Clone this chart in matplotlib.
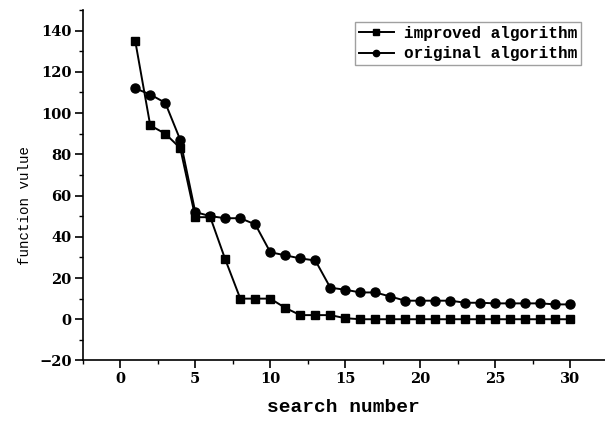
import matplotlib
matplotlib.use("Agg")
import matplotlib.pyplot as plt
from matplotlib.ticker import MultipleLocator

# search number 1..30
search_number = list(range(1, 31))
improved = [135, 94, 90, 83, 49.5, 49.5, 29, 10, 10, 10, 5.5, 2, 2, 2, 0.5,
            0, 0, 0, 0, 0, 0, 0, 0, 0, 0, 0, 0, 0, 0, 0]
original = [112, 109, 105, 87, 52, 50, 49, 49, 46, 32.5, 31, 29.5, 28.5, 15.3, 14.3,
            13, 13, 11, 9, 9, 9, 9, 8, 8, 7.7, 7.7, 7.7, 7.7, 7.2, 7.2]
x_ticks = [0, 5, 10, 15, 20, 25, 30]
y_ticks = [-20, 0, 20, 40, 60, 80, 100, 120, 140]

mono = "Liberation Mono"
serif = "DejaVu Serif"

fig = plt.figure(figsize=(6.05, 4.23), dpi=100)
ax = fig.add_axes([0.1367, 0.1478, 0.8633, 0.8286])

ax.plot(search_number, improved, color="black", lw=1.4, marker="s", ms=6,
        label="improved algorithm")
ax.plot(search_number, original, color="black", lw=1.4, marker="o", ms=6.5,
        label="original algorithm")

ax.set_xlim(-2.5, 32.3)
ax.set_ylim(-20, 150)
ax.set_xticks(x_ticks)
ax.set_yticks(y_ticks)
ax.xaxis.set_minor_locator(MultipleLocator(2.5))
ax.yaxis.set_minor_locator(MultipleLocator(10))

ax.spines["top"].set_visible(False)
ax.spines["right"].set_visible(False)
ax.spines["left"].set_linewidth(1.2)
ax.spines["bottom"].set_linewidth(1.2)
ax.tick_params(which="major", direction="out", length=6, width=1.2, pad=2)
ax.tick_params(which="minor", direction="out", length=3, width=1.0)
for lbl in ax.get_xticklabels() + ax.get_yticklabels():
    lbl.set_fontfamily(serif)
    lbl.set_fontweight("bold")
    lbl.set_fontsize(10.5)

ax.set_xlabel("search number", fontfamily=mono, fontweight="bold", fontsize=14, labelpad=10)
ax.set_ylabel("function vulue", fontfamily=mono, fontsize=10.2)
ax.yaxis.set_label_coords(-0.097, 0.441)

leg = ax.legend(loc="upper right", bbox_to_anchor=(0.960, 0.949),
                bbox_transform=fig.transFigure, frameon=True, fancybox=False,
                prop={"family": mono, "weight": "bold", "size": 11.5},
                handlelength=2.2, handletextpad=0.6, borderpad=0.25,
                labelspacing=0.35, markerscale=0.7, borderaxespad=0)
leg.get_frame().set_edgecolor("#888888")
leg.get_frame().set_linewidth(1.0)

fig.savefig("out.png", dpi=100)
